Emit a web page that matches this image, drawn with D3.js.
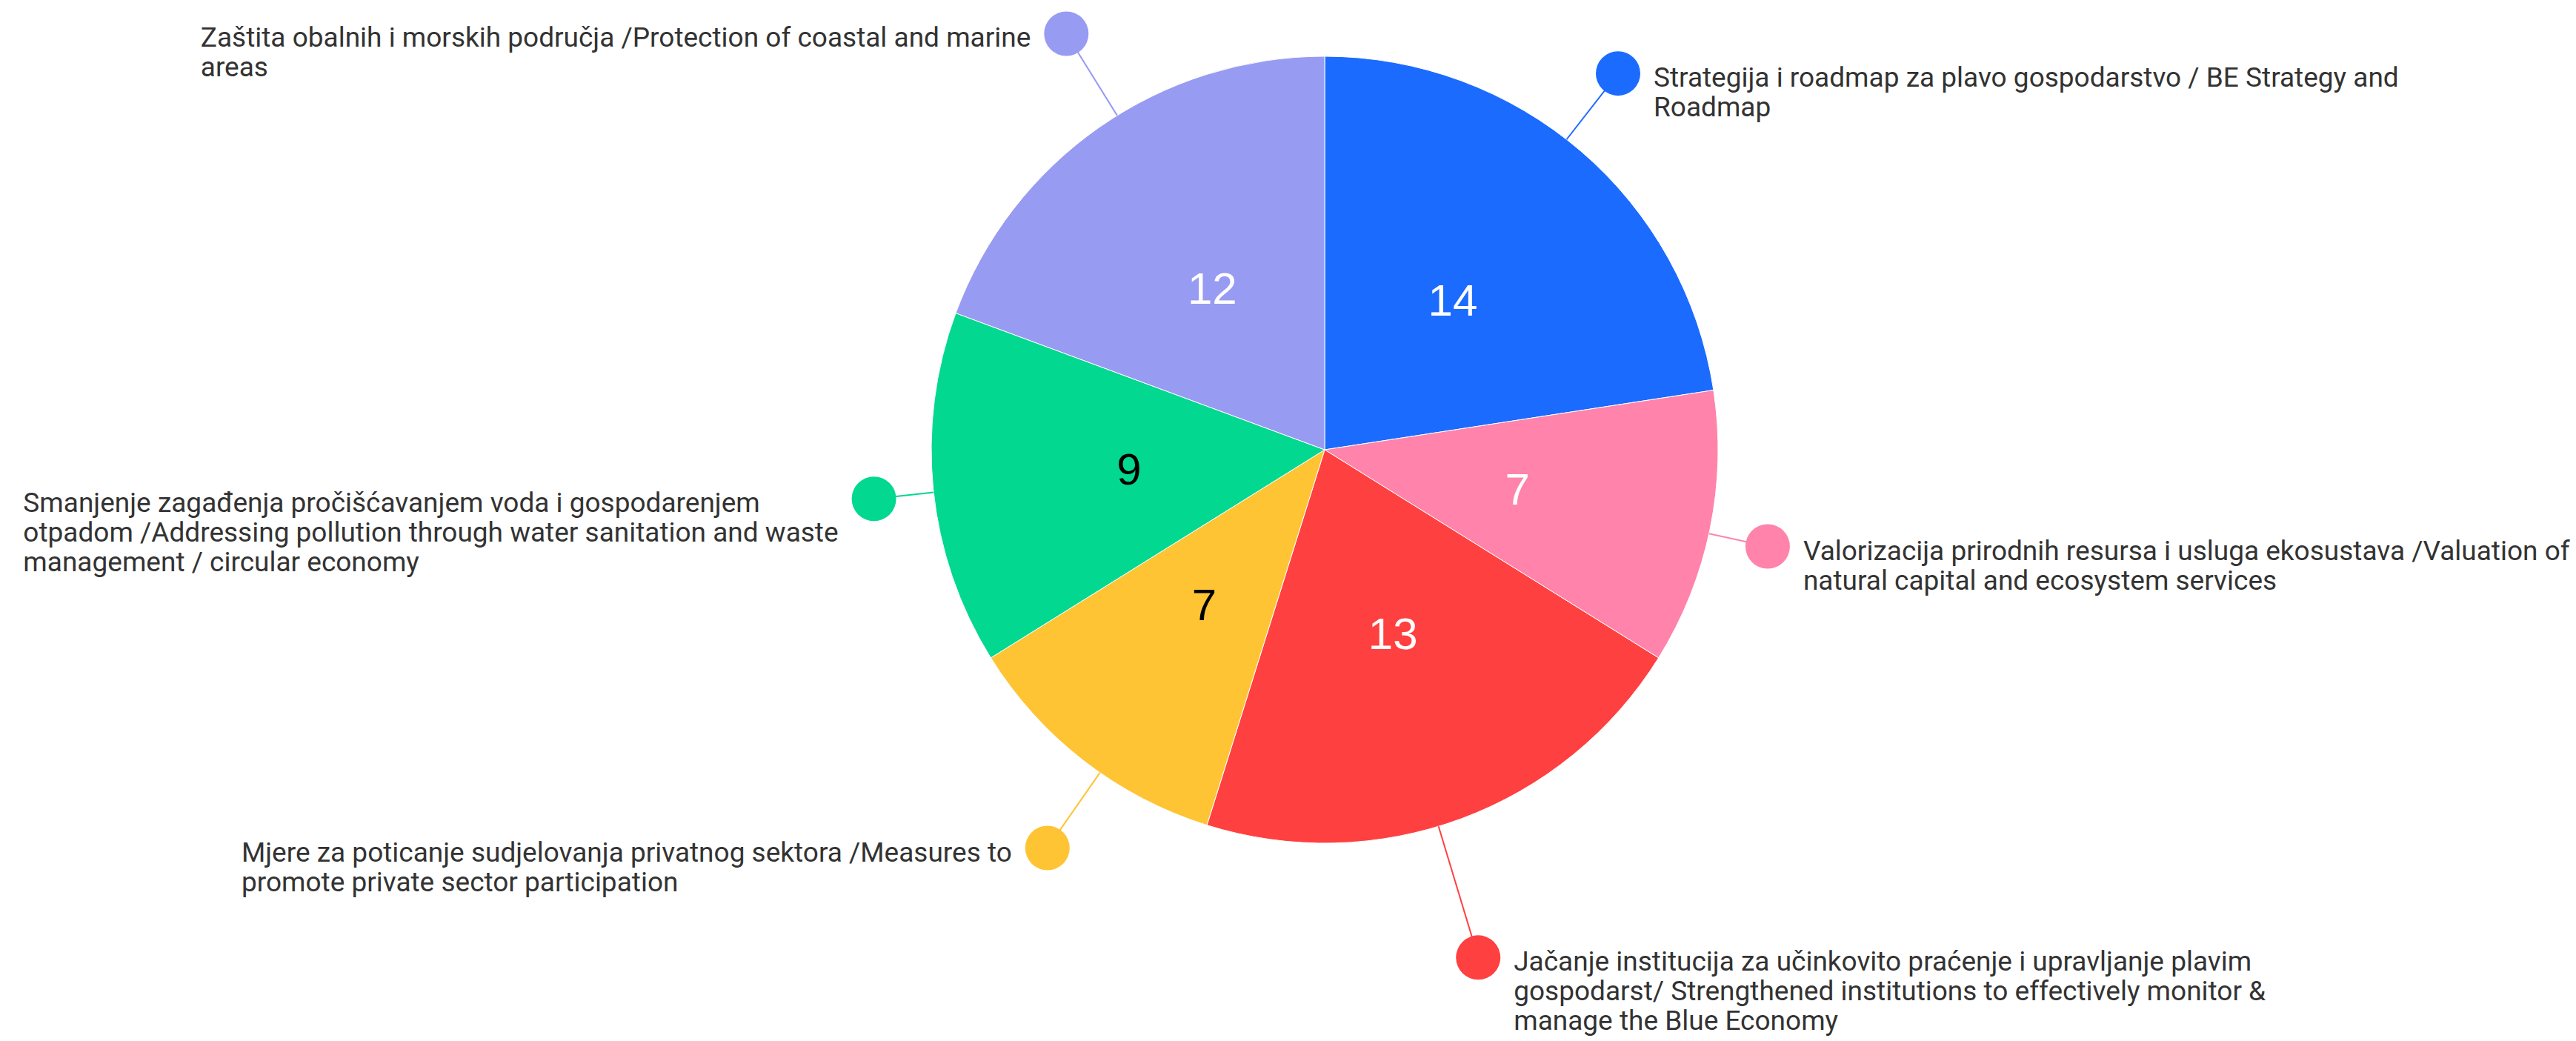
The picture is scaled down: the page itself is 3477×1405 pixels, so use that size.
<!DOCTYPE html>
<html>
<head>
<meta charset="utf-8">
<script src="https://cdn.jsdelivr.net/npm/d3@7"></script>
<style>
  html, body { margin: 0; padding: 0; background: #ffffff; }
  svg { display: block; }
</style>
</head>
<body>
<svg id="chart" width="3477" height="1405"></svg>
<script>
// ---- DATA ----
const categories = [
  "Strategija i roadmap za plavo gospodarstvo / BE Strategy and Roadmap",
  "Valorizacija prirodnih resursa i usluga ekosustava /Valuation of natural capital and ecosystem services",
  "Jačanje institucija za učinkovito praćenje i upravljanje plavim gospodarst/ Strengthened institutions to effectively monitor & manage the Blue Economy",
  "Mjere za poticanje sudjelovanja privatnog sektora /Measures to promote private sector participation",
  "Smanjenje zagađenja pročišćavanjem voda i gospodarenjem otpadom /Addressing pollution through water sanitation and waste management / circular economy",
  "Zaštita obalnih i morskih područja /Protection of coastal and marine areas"
];
const values = [14, 7, 13, 7, 9, 12];
const labelLines = [
  ["Strategija i roadmap za plavo gospodarstvo / BE Strategy and", "Roadmap"],
  ["Valorizacija prirodnih resursa i usluga ekosustava /Valuation of", "natural capital and ecosystem services"],
  ["Jačanje institucija za učinkovito praćenje i upravljanje plavim", "gospodarst/ Strengthened institutions to effectively monitor &", "manage the Blue Economy"],
  ["Mjere za poticanje sudjelovanja privatnog sektora /Measures to", "promote private sector participation"],
  ["Smanjenje zagađenja pročišćavanjem voda i gospodarenjem", "otpadom /Addressing pollution through water sanitation and waste", "management / circular economy"],
  ["Zaštita obalnih i morskih područja /Protection of coastal and marine", "areas"]
];

// ---- STYLE / LAYOUT ----
const colors = ["#1b6bff", "#ff83aa", "#ff4040", "#fec434", "#02d88f", "#989bf2"];
const valueColors = ["#ffffff", "#ffffff", "#ffffff", "#000000", "#000000", "#ffffff"];
const labelDistance = [644, 612, 716, 655, 612, 661];
const labelAngleShift = [-2.7, 0.7, 3.5, -2.9, -0.4, 3.0];

const cx = 1788, cy = 607, R = 531;
const dotR = 30, gap = 18, lineH = 40, textShift = 5;
const labelFont = "Roboto, 'Open Sans', sans-serif";
const labelSize = 37;

const svg = d3.select("#chart");
const g = svg.append("g").attr("transform", `translate(${cx},${cy})`);

const pie = d3.pie().sort(null).value(d => d);
const arcs = pie(values);
const arc = d3.arc().innerRadius(0).outerRadius(R);

g.selectAll("path.slice")
  .data(arcs)
  .join("path")
  .attr("class", "slice")
  .attr("d", arc)
  .attr("fill", (d, i) => colors[i])
  .attr("stroke", "#ffffff")
  .attr("stroke-width", 1);

// value labels
g.selectAll("text.val")
  .data(arcs)
  .join("text")
  .attr("class", "val")
  .attr("x", d => arc.centroid(d)[0])
  .attr("y", d => arc.centroid(d)[1])
  .attr("text-anchor", "middle")
  .attr("dominant-baseline", "central")
  .attr("font-family", "'Liberation Sans', Arial, sans-serif")
  .attr("font-size", 60)
  .attr("fill", (d, i) => valueColors[i])
  .text(d => d.data);

// leader lines, dots and labels
const polar = (ang, r) => [r * Math.sin(ang), -r * Math.cos(ang)];

arcs.forEach((d, i) => {
  const mid = (d.startAngle + d.endAngle) / 2 + labelAngleShift[i] * Math.PI / 180;
  const p0 = polar(mid, R);
  const p1 = polar(mid, labelDistance[i]);
  g.append("line")
    .attr("x1", p0[0]).attr("y1", p0[1])
    .attr("x2", p1[0]).attr("y2", p1[1])
    .attr("stroke", colors[i])
    .attr("stroke-width", 2);
  g.append("circle")
    .attr("cx", p1[0]).attr("cy", p1[1])
    .attr("r", dotR)
    .attr("fill", colors[i]);

  const right = p1[0] > 0;
  const t = g.append("text")
    .attr("font-family", labelFont)
    .attr("font-size", labelSize)
    .attr("fill", "#333333")
    .attr("dominant-baseline", "central");
  labelLines[i].forEach((ln, k) => {
    t.append("tspan").attr("x", 0).attr("y", p1[1] + textShift + k * lineH).text(ln);
  });
  let maxW = 0;
  t.selectAll("tspan").each(function () {
    maxW = Math.max(maxW, this.getComputedTextLength());
  });
  const x0 = right ? p1[0] + dotR + gap : p1[0] - dotR - gap - maxW;
  t.selectAll("tspan").attr("x", x0);
});
</script>
</body>
</html>
